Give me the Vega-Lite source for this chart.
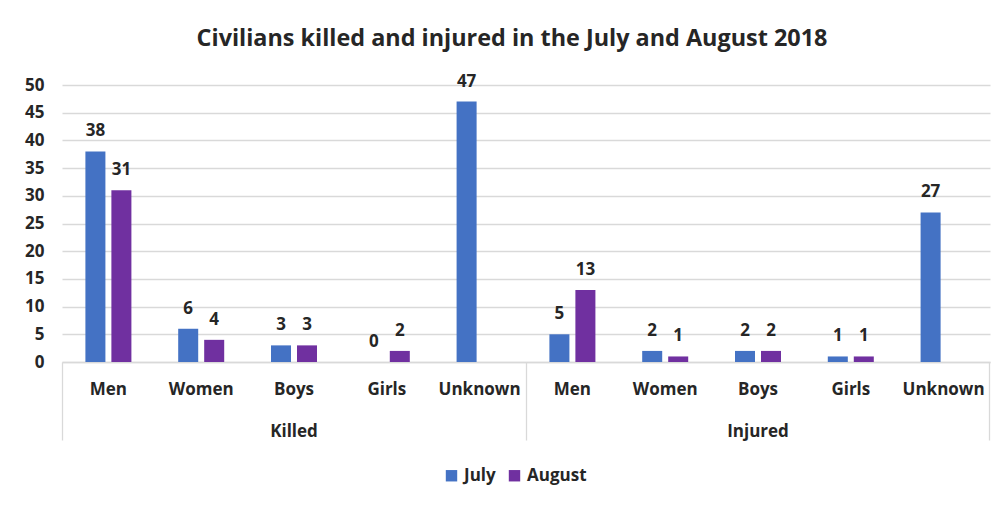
{
  "$schema": "https://vega.github.io/schema/vega-lite/v6.json",
  "width": 928,
  "height": 277,
  "autosize": {"type": "none"},
  "padding": {"left": 62, "top": 85, "right": 16, "bottom": 144},
  "background": "white",
  "config": {
    "font": "Open Sans",
    "view": {"stroke": null},
    "axis": {"labelFont": "Open Sans", "labelFontWeight": "bold", "labelColor": "#262626", "labelFontSize": 17}
  },
  "title": {
    "text": "Civilians killed and injured in the July and August 2018",
    "font": "Open Sans",
    "fontSize": 23.4,
    "fontWeight": "bold",
    "color": "#262626",
    "anchor": "middle",
    "dx": -14,
    "dy": 104,
    "offset": 32
  },
  "data": {
    "values": [
      {"key": "Killed|Men", "series": "July", "value": 38},
      {"key": "Killed|Men", "series": "August", "value": 31},
      {"key": "Killed|Women", "series": "July", "value": 6},
      {"key": "Killed|Women", "series": "August", "value": 4},
      {"key": "Killed|Boys", "series": "July", "value": 3},
      {"key": "Killed|Boys", "series": "August", "value": 3},
      {"key": "Killed|Girls", "series": "July", "value": 0},
      {"key": "Killed|Girls", "series": "August", "value": 2},
      {"key": "Killed|Unknown", "series": "July", "value": 47},
      {"key": "Injured|Men", "series": "July", "value": 5},
      {"key": "Injured|Men", "series": "August", "value": 13},
      {"key": "Injured|Women", "series": "July", "value": 2},
      {"key": "Injured|Women", "series": "August", "value": 1},
      {"key": "Injured|Boys", "series": "July", "value": 2},
      {"key": "Injured|Boys", "series": "August", "value": 2},
      {"key": "Injured|Girls", "series": "July", "value": 1},
      {"key": "Injured|Girls", "series": "August", "value": 1},
      {"key": "Injured|Unknown", "series": "July", "value": 27}
    ]
  },
  "encoding": {
    "x": {"field": "key", "type": "nominal", "sort": null, "title": null,
          "scale": {"paddingInner": 0, "paddingOuter": 0}},
    "y": {"field": "value", "type": "quantitative", "title": null,
          "scale": {"domain": [0, 50]},
          "axis": {"values": [0, 5, 10, 15, 20, 25, 30, 35, 40, 45, 50], "domain": false, "ticks": false,
                   "labelPadding": 18, "gridColor": "#D9D9D9", "gridWidth": 1.3}}
  },
  "resolve": {"axis": {"x": "independent"}},
  "layer": [
    {
      "mark": {"type": "bar"},
      "encoding": {
        "x": {"field": "key", "type": "nominal", "sort": null, "title": null,
              "axis": {"orient": "bottom", "labelExpr": "split(datum.value, '|')[1]", "labelAngle": 0,
                       "ticks": false, "domainColor": "#D9D9D9", "domainWidth": 1.3, "labelPadding": 19}},
        "xOffset": {"field": "series", "type": "nominal", "sort": ["July", "August"],
                    "scale": {"domain": ["July", "August"], "paddingInner": 0.23, "paddingOuter": 0.9}},
        "color": {"field": "series", "type": "nominal",
                  "scale": {"domain": ["July", "August"], "range": ["#4472C4", "#7030A0"]},
                  "legend": {"title": null, "orient": "none", "direction": "horizontal", "legendX": 381, "legendY": 382,
                             "symbolType": "square", "symbolSize": 130, "symbolStrokeWidth": 0,
                             "labelFont": "Open Sans", "labelFontSize": 17, "labelFontWeight": "bold", "labelColor": "#262626",
                             "labelOffset": 4, "columnPadding": 10}}
      }
    },
    {
      "mark": {"type": "text", "baseline": "alphabetic", "dy": -15, "font": "Open Sans", "fontSize": 17, "fontWeight": "bold", "color": "#262626"},
      "encoding": {
        "x": {"field": "key", "type": "nominal", "sort": null, "axis": null},
        "xOffset": {"field": "series", "type": "nominal", "sort": ["July", "August"]},
        "text": {"field": "value", "type": "quantitative"}
      }
    },
    {
      "mark": {"type": "bar", "opacity": 0},
      "encoding": {
        "x": {"field": "key", "type": "nominal", "sort": null, "title": null,
              "axis": {"orient": "bottom", "values": ["Killed|Boys", "Injured|Boys"], "labelExpr": "split(datum.value, '|')[0]",
                       "labelAngle": 0, "ticks": false, "domain": false, "labelPadding": 61}}
      }
    },
    {
      "mark": {"type": "bar", "opacity": 0},
      "encoding": {
        "x": {"field": "key", "type": "nominal", "sort": null, "title": null,
              "axis": {"orient": "bottom", "values": ["Killed|Men", "Injured|Men"], "bandPosition": 0,
                       "labels": false, "domain": false, "tickSize": 78, "tickColor": "#D9D9D9", "tickWidth": 1.3}}
      }
    },
    {
      "mark": {"type": "bar", "opacity": 0},
      "encoding": {
        "x": {"field": "key", "type": "nominal", "sort": null, "title": null,
              "axis": {"orient": "bottom", "values": ["Injured|Unknown"], "bandPosition": 1,
                       "labels": false, "domain": false, "tickSize": 78, "tickColor": "#D9D9D9", "tickWidth": 1.3}}
      }
    }
  ]
}
